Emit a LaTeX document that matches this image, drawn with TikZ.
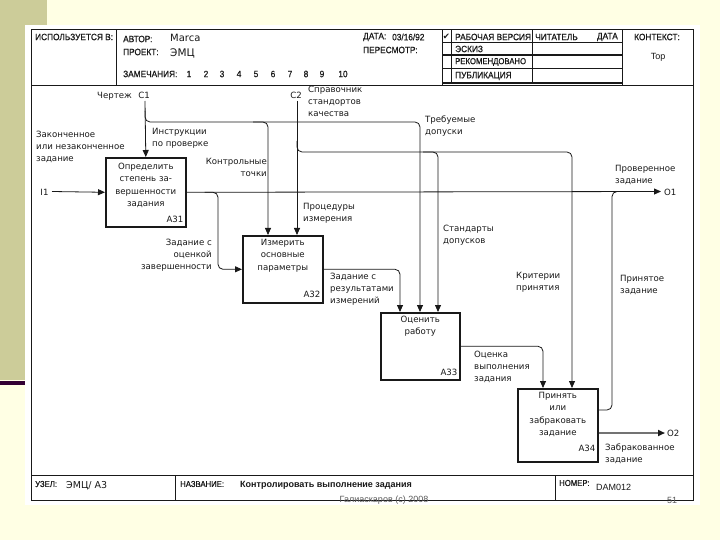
\documentclass[tikz,border=0pt]{standalone}
\usepackage{fontspec}
\setmainfont{DejaVu Sans}
\newfontfamily\lblfont{DejaVu Sans}
\newfontfamily\hdrfont[FakeStretch=0.9,FakeBold=0.6]{Liberation Sans}
\newfontfamily\plainsans{Liberation Sans}
\usetikzlibrary{arrows.meta}
\definecolor{bgyellow}{RGB}{255,255,228}
\definecolor{bandkhaki}{RGB}{204,204,153}
\definecolor{bandbar}{RGB}{51,0,51}
\definecolor{inkc}{RGB}{25,25,25}
\begin{document}
\begin{tikzpicture}[x=1pt,y=-1pt,
  lbl/.style={font=\lblfont\fontsize{8.6}{12.3}\selectfont, inner sep=0pt, align=left, text=inkc},
  lblr/.style={lbl, align=right},
  boxtext/.style={lbl, align=center, anchor=north},
  hdr/.style={font=\hdrfont\fontsize{9.2}{10}\selectfont, inner sep=0pt, anchor=west, text=inkc},
  hdrsmall/.style={hdr, font=\hdrfont\fontsize{8.6}{10}\selectfont},
  fn/.style={draw=inkc, line width=1.6pt, minimum width=80pt, anchor=north west, inner sep=0pt},
  arr/.style={draw=inkc, line width=0.8pt, -{Triangle[length=7pt,width=6pt]}},
  ln/.style={draw=inkc, line width=0.8pt},
  rc/.style={rounded corners=5pt},
  frameline/.style={draw=inkc, line width=1pt},
]
\useasboundingbox (0,0) rectangle (720,540);
% background
\fill[bgyellow] (0,0) rectangle (720,540);
\fill[bandkhaki] (0,0) rectangle (47,380);
\fill[bandbar] (0,381) rectangle (28,385);
\fill[white] (25,25) rectangle (700,505);

% frame
\draw[frameline] (31,30) rectangle (693,500);
\draw[frameline] (31,86) -- (693,86);
\draw[frameline] (116,30) -- (116,86);
\draw[frameline] (442,30) -- (442,86);
\draw[frameline] (622,30) -- (622,86);
\draw[frameline] (451,30) -- (451,83);
\draw[frameline] (532,30) -- (532,83);
\draw[frameline] (442,43) -- (622,43);
\draw[draw=inkc, line width=1.3pt] (442,55) -- (622,55);
\draw[frameline] (442,69) -- (622,69);
\draw[draw=inkc, line width=1.4pt] (442,83) -- (622,83);
% footer lines
\draw[frameline] (31,475) -- (693,475);
\draw[frameline] (175,475) -- (175,500);
\draw[frameline] (555,475) -- (555,500);

% header texts
\node[hdr] (hUsed) at (35,37) {ИСПОЛЬЗУЕТСЯ В:};
\node[hdr] (hAuth) at (123,39) {АВТОР:};
\node[hdr] (hProj) at (123,52) {ПРОЕКТ:};
\node[lbl, font=\lblfont\fontsize{10}{12}\selectfont, anchor=west] (vAuth) at (170,38) {Marca};
\node[lbl, font=\lblfont\fontsize{10.5}{12}\selectfont, anchor=west] (vProj) at (170,53) {ЭМЦ};
\node[hdr] (hNotes) at (123,74) {ЗАМЕЧАНИЯ:};
\foreach \n/\xx in {1/189,2/206,3/222,4/239,5/256,6/273,7/290,8/306,9/322,10/343}
  \node[hdr, anchor=center] (num\n) at (\xx,74) {\n};
\node[hdr] (hDate) at (363,37) {ДАТА:};
\node[hdr] (vDate) at (392,37) {03/16/92};
\node[hdr] (hRev) at (363,50) {ПЕРЕСМОТР:};
\node[lbl, font=\lblfont\fontsize{8.5}{9}\selectfont, anchor=center] (chk) at (446.5,37) {✔};
\node[hdr] (s1) at (455,37) {РАБОЧАЯ ВЕРСИЯ};
\node[hdr] (s2) at (455,49) {ЭСКИЗ};
\node[hdrsmall] (s3) at (455,62) {РЕКОМЕНДОВАНО};
\node[hdr] (s4) at (455,76) {ПУБЛИКАЦИЯ};
\node[hdr] (hReader) at (535,37) {ЧИТАТЕЛЬ};
\node[hdr, anchor=east] (hDate2) at (618,37) {ДАТА};
\node[hdr, anchor=center] (hCtx) at (657,37) {КОНТЕКСТ:};
\node[lbl, font=\plainsans\fontsize{9}{10}\selectfont, anchor=center] (vCtx) at (658,57) {Top};

% footer texts
\node[hdrsmall] (fNode) at (35,484) {УЗЕЛ:};
\node[lbl, font=\lblfont\fontsize{9.5}{11}\selectfont, anchor=west] (vNode) at (66,486) {ЭМЦ/ А3};
\node[hdrsmall] (fName) at (180,484) {НАЗВАНИЕ:};
\node[hdr, font=\plainsans\bfseries\fontsize{9}{10}\selectfont] (vName) at (240,485) {Контролировать выполнение задания};
\node[hdrsmall] (fNum) at (559,483) {НОМЕР:};
\node[lbl, font=\plainsans\fontsize{9}{10}\selectfont, anchor=west] (vNum) at (596,487) {DAM012};
\node[font=\plainsans\fontsize{9}{10}\selectfont, text=black!65, inner sep=0pt] (copy) at (384,500) {Галиаскаров (с) 2008};
\node[font=\plainsans\fontsize{9}{10}\selectfont, text=black!65, inner sep=0pt] (page) at (672,500) {51};

% activity boxes
\node[fn, minimum height=69pt] (a31) at (105,157) {};
\node[fn, minimum height=67pt] (a32) at (242,235) {};
\node[fn, minimum width=79pt, minimum height=67pt] (a33) at (380,312) {};
\node[fn, minimum height=73pt] (a34) at (517,388) {};

\node[boxtext] (t31) at ([yshift=-6pt]a31.north) {Определить\\степень за-\\вершенности\\задания};
\node[boxtext] (t32) at ([yshift=-4pt]a32.north) {Измерить\\основные\\параметры};
\node[boxtext] (t33) at ([yshift=-4pt]a33.north) {Оценить\\работу};
\node[boxtext] (t34) at ([yshift=-4pt]a34.north) {Принять\\или\\забраковать\\задание};

\node[lbl, anchor=south east] (n31) at ([xshift=-3pt,yshift=5pt]a31.south east) {A31};
\node[lbl, anchor=south east] (n32) at ([xshift=-3pt,yshift=6pt]a32.south east) {A32};
\node[lbl, anchor=south east] (n33) at ([xshift=-3pt,yshift=5pt]a33.south east) {A33};
\node[lbl, anchor=south east] (n34) at ([xshift=-3pt,yshift=11pt]a34.south east) {A34};

% boundary coordinates
\coordinate (c1) at (145,101);
\coordinate (c2) at (297,101);
\coordinate (i1) at (52,191.5);
\coordinate (o1) at (661,191.5);
\coordinate (o2) at (665,433);
\coordinate (k1) at (268,122);
\coordinate (k2) at (420,122);
\coordinate (k3) at (438,152);
\coordinate (k4) at (572,152);
\coordinate (k6) at (612,191.5);

% ICOM labels
\node[lbl, anchor=center] (lc1) at (144,95) {C1};
\node[lbl, anchor=center] (lc2) at (296,95) {C2};
\node[lbl, anchor=center] (li1) at (44.5,192) {I1};
\node[lbl, anchor=west] (lo1) at (664,192) {O1};
\node[lbl, anchor=west] (lo2) at (667,433) {O2};

% connectors
\draw[arr] (i1) -- (a31.west);
\draw[arr] (c1) -- (a31.north);
\draw[arr, rc] ([yshift=-10pt]c1) |- (k1) -- (k1 |- a32.north);
\draw[arr, rc] ([xshift=-15pt]k1) -- (k2) -- (k2 |- a33.north);
\draw[arr] (c2) -- (c2 |- a32.north);
\draw[arr, rc] ([yshift=-40pt]c2) |- (k3) -- (k3 |- a33.north);
\draw[arr, rc] ([xshift=-15pt]k3) -- (k4) -- (k4 |- a34.north);
\draw[arr] (a31.east) -- (o1);
\draw[arr, rc] ([xshift=18pt]a31.east) -| ([xshift=-24pt]a32.west) -- (a32.west);
\draw[arr, rc] (a32.east) -| ([xshift=20pt]a33.north west);
\draw[arr, rc] (a33.east) -| ([xshift=26pt]a34.north west);
\draw[ln, rc] (a34.east |- 0,410) -| (k6) -- ([xshift=15pt]k6);
\draw[draw=black!55, line width=2.2pt, -{Triangle[length=7pt,width=6pt,color=inkc]}] (a34.east |- o2) -- (o2);

% arrow labels
\node[lbl, anchor=east] (lDraw) at (132,96) {Чертеж};
\node[lbl, anchor=north west] (lIn) at (36,130.7) {Законченное\\или незаконченное\\задание};
\node[lbl, anchor=north west] (lInstr) at (152,127.7) {Инструкции\\по проверке};
\node[lblr, anchor=north east] (lCtrl) at (267,157.7) {Контрольные\\точки};
\node[lbl, anchor=north west] (lRef) at (308,85.5) {Справочник\\стандортов\\качества};
\node[lbl, anchor=north west] (lProc) at (303,202.7) {Процедуры\\измерения};
\node[lbl, anchor=north west] (lTol) at (425,115.7) {Требуемые\\допуски};
\node[lbl, anchor=north west] (lStd) at (443,224.7) {Стандарты\\допусков};
\node[lbl, anchor=north west] (lCrit) at (516,271.7) {Критерии\\принятия};
\node[lbl, anchor=north west] (lChk) at (615,164.7) {Проверенное\\задание};
\node[lbl, anchor=north west] (lAcc) at (620,274.7) {Принятое\\задание};
\node[lblr, anchor=north east] (lEst) at (212,238.7) {Задание с\\оценкой\\завершенности};
\node[lbl, anchor=north west] (lMeas) at (330,272.7) {Задание с\\результатами\\измерений};
\node[lbl, anchor=north west] (lEval) at (474,350.7) {Оценка\\выполнения\\задания};
\node[lbl, anchor=north west] (lRej) at (605,443.7) {Забракованное\\задание};
\end{tikzpicture}
\end{document}
